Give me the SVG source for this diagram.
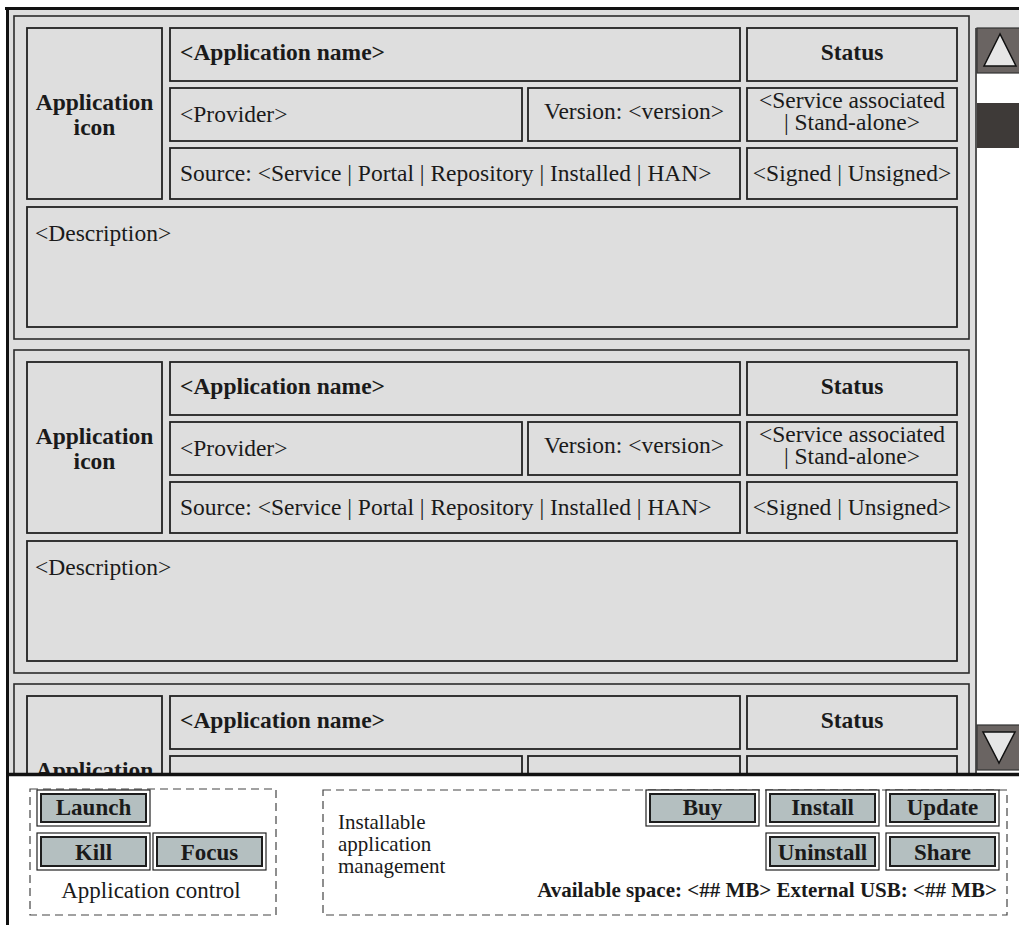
<svg xmlns="http://www.w3.org/2000/svg" width="1019" height="925" viewBox="0 0 1019 925">
  <style>
    .panel { fill: #dedede; }
    .card { fill: #dedede; stroke: #2b2b2b; stroke-width: 1.6; }
    .box { fill: #dedede; stroke: #222; stroke-width: 1.8; }
    .t { font-family: "Liberation Serif", "Times New Roman", serif; font-size: 23.5px; fill: #1a1a1a; }
    .b { font-weight: bold; }
    .c { text-anchor: middle; }
    .e { text-anchor: end; }
    .frame { stroke: #111; fill: none; }
    .dash { fill: none; stroke: #444; stroke-width: 1.2; stroke-dasharray: 8 5; }
    .btn-o { fill: #fff; stroke: #222; stroke-width: 1.2; }
    .btn-i { fill: #b4bfc0; stroke: #1e1e1e; stroke-width: 2; }
    .bl { font-family: "Liberation Serif", "Times New Roman", serif; font-size: 23px; font-weight: bold; text-anchor: middle; fill: #1a1a1a; }
    .sb { fill: #6a6462; stroke: #333; stroke-width: 1.2; }
    .arrow { fill: #e6e6e6; stroke: #111; stroke-width: 1.5; stroke-linejoin: miter; }
  </style>

  <defs>
    <!-- one application entry of the list -->
    <g id="entry">
      <rect class="card" x="14" y="16" width="955" height="323"/>
      <rect class="box" x="27" y="28" width="135" height="171"/>
      <text class="t b c" x="94.5" y="110">Application<tspan x="94.5" dy="25">icon</tspan></text>
      <rect class="box" x="170" y="28" width="570" height="53"/>
      <text class="t b" x="180" y="60">&lt;Application name&gt;</text>
      <rect class="box" x="747" y="28" width="210" height="53"/>
      <text class="t b c" x="852" y="60">Status</text>
      <rect class="box" x="170" y="88" width="352" height="53"/>
      <text class="t" x="180" y="122">&lt;Provider&gt;</text>
      <rect class="box" x="528" y="88" width="212" height="53"/>
      <text class="t c" x="634" y="119">Version: &lt;version&gt;</text>
      <rect class="box" x="747" y="88" width="210" height="53"/>
      <text class="t c" x="852" y="108">&lt;Service associated<tspan x="852" dy="22">| Stand-alone&gt;</tspan></text>
      <rect class="box" x="170" y="148" width="570" height="51"/>
      <text class="t" x="180" y="181">Source: &lt;Service | Portal | Repository | Installed | HAN&gt;</text>
      <rect class="box" x="747" y="148" width="210" height="51"/>
      <text class="t c" x="852" y="181">&lt;Signed | Unsigned&gt;</text>
      <rect class="box" x="27" y="207" width="930" height="120"/>
      <text class="t" x="35" y="241">&lt;Description&gt;</text>
    </g>
  </defs>

  <!-- list panel background -->
  <rect class="panel" x="8" y="8" width="1011" height="768"/>

  <g id="entry-1"><use href="#entry"/></g>
  <g id="entry-2"><use href="#entry" transform="translate(0,334)"/></g>

  <!-- third entry, cut off by the control area -->
  <g id="entry-3">
    <rect class="card" x="14" y="684" width="955" height="323"/>
    <rect class="box" x="27" y="696" width="135" height="171"/>
    <text class="t b c" x="94.5" y="778">Application</text>
    <rect class="box" x="170" y="696" width="570" height="53"/>
    <text class="t b" x="180" y="728">&lt;Application name&gt;</text>
    <rect class="box" x="747" y="696" width="210" height="53"/>
    <text class="t b c" x="852" y="728">Status</text>
    <rect class="box" x="170" y="756" width="352" height="53"/>
    <rect class="box" x="528" y="756" width="212" height="53"/>
    <rect class="box" x="747" y="756" width="210" height="53"/>
  </g>

  <!-- scroll bar -->
  <g id="scrollbar">
    <rect x="977" y="28" width="43" height="746" fill="#fff"/>
    <line x1="976" y1="28" x2="976" y2="774" stroke="#333" stroke-width="1.6"/>
    <rect class="sb" x="977" y="28" width="43" height="45"/>
    <polygon class="arrow" points="1000,34 984,66 1016,66"/>
    <rect x="977" y="103" width="43" height="45" fill="#3e3a38"/>
    <rect class="sb" x="977" y="725" width="43" height="45"/>
    <polygon class="arrow" points="983,732 1015,732 999,763"/>
  </g>

  <!-- control area below the list -->
  <rect x="9" y="776" width="1010" height="149" fill="#fff"/>

  <!-- outer frame -->
  <line class="frame" x1="5" y1="8.5" x2="1019" y2="8.5" stroke-width="3"/>
  <line class="frame" x1="7.5" y1="7" x2="7.5" y2="925" stroke-width="3"/>
  <line class="frame" x1="6" y1="774.5" x2="1019" y2="774.5" stroke-width="3.5"/>

  <g id="application-control">
    <rect class="dash" x="30" y="789" width="246" height="126"/>
    <g id="btn-launch">
      <rect class="btn-o" x="37" y="790" width="113" height="36"/>
      <rect class="btn-i" x="41" y="794" width="105" height="28"/>
      <text class="bl" x="93.5" y="815">Launch</text>
    </g>
    <g id="btn-kill">
      <rect class="btn-o" x="37" y="833" width="113" height="37"/>
      <rect class="btn-i" x="41" y="837" width="105" height="29"/>
      <text class="bl" x="93.5" y="860">Kill</text>
    </g>
    <g id="btn-focus">
      <rect class="btn-o" x="153" y="833" width="113" height="37"/>
      <rect class="btn-i" x="157" y="837" width="105" height="29"/>
      <text class="bl" x="209.5" y="860">Focus</text>
    </g>
    <text class="t c" x="151" y="898" style="font-size:23px">Application control</text>
  </g>

  <g id="installable-management">
    <rect class="dash" x="323" y="790" width="684" height="125"/>
    <text class="t" x="338" y="829" style="font-size:21px">Installable<tspan x="338" dy="22">application</tspan><tspan x="338" dy="22">management</tspan></text>
    <g id="btn-buy">
      <rect class="btn-o" x="646" y="790" width="113" height="36"/>
      <rect class="btn-i" x="650" y="794" width="105" height="28"/>
      <text class="bl" x="702.5" y="815">Buy</text>
    </g>
    <g id="btn-install">
      <rect class="btn-o" x="766" y="790" width="113" height="36"/>
      <rect class="btn-i" x="770" y="794" width="105" height="28"/>
      <text class="bl" x="822.5" y="815">Install</text>
    </g>
    <g id="btn-update">
      <rect class="btn-o" x="886" y="790" width="113" height="36"/>
      <rect class="btn-i" x="890" y="794" width="105" height="28"/>
      <text class="bl" x="942.5" y="815">Update</text>
    </g>
    <g id="btn-uninstall">
      <rect class="btn-o" x="766" y="833" width="113" height="37"/>
      <rect class="btn-i" x="770" y="837" width="105" height="29"/>
      <text class="bl" x="822.5" y="860">Uninstall</text>
    </g>
    <g id="btn-share">
      <rect class="btn-o" x="886" y="833" width="113" height="37"/>
      <rect class="btn-i" x="890" y="837" width="105" height="29"/>
      <text class="bl" x="942.5" y="860">Share</text>
    </g>
    <text class="t b e" x="997" y="897" style="font-size:21px">Available space: &lt;## MB&gt; External USB: &lt;## MB&gt;</text>
  </g>
</svg>
